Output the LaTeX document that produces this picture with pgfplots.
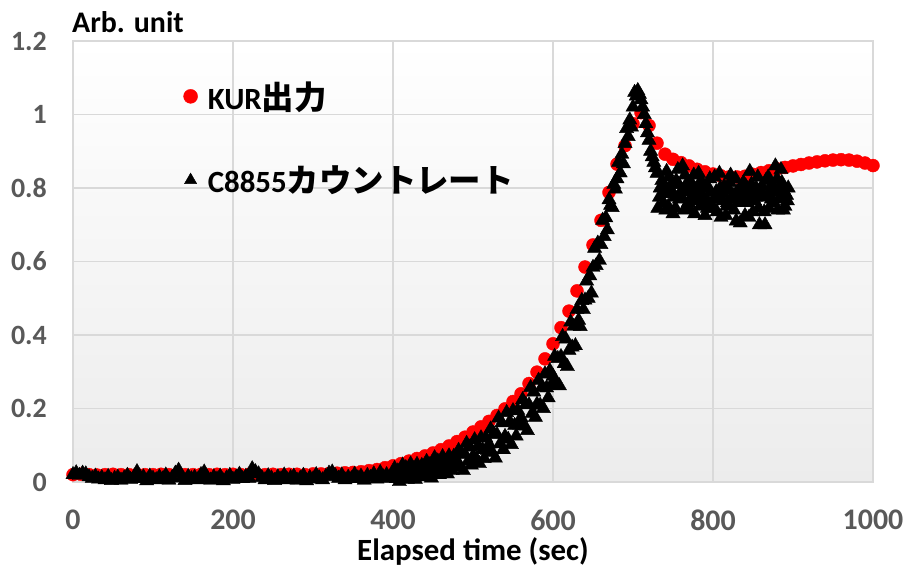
\documentclass[border=0pt]{standalone}
\usepackage{pgfplots}
\pgfplotsset{compat=1.18}
\usepackage{fontspec}
\setmainfont{Carlito}
\newfontfamily\cjk{Noto Sans CJK JP}[Scale=1.05]
\definecolor{gridc}{HTML}{D9D9D9}
\definecolor{tickc}{HTML}{595959}
\definecolor{bgbot}{HTML}{ECECEC}
\definecolor{kur}{HTML}{FF0000}
\pgfplotsset{bigleg/.style={legend image code/.code={\draw[#1, mark size=7bp] plot coordinates {(0bp,0bp)}; \path (-7bp,0bp) (15bp,0bp);}}}

\pgfplotstableread{
t v
0 0.020
10 0.021
20 0.020
30 0.019
40 0.020
50 0.021
60 0.020
70 0.020
80 0.021
90 0.020
100 0.020
110 0.021
120 0.020
130 0.021
140 0.020
150 0.020
160 0.021
170 0.020
180 0.021
190 0.020
200 0.021
210 0.020
220 0.021
230 0.021
240 0.020
250 0.021
260 0.020
270 0.021
280 0.021
290 0.020
300 0.022
310 0.022
320 0.023
330 0.024
340 0.025
350 0.026
360 0.028
370 0.031
380 0.034
390 0.039
400 0.044
410 0.050
420 0.057
430 0.064
440 0.071
450 0.079
460 0.088
470 0.098
480 0.110
490 0.122
500 0.136
510 0.150
520 0.165
530 0.181
540 0.199
550 0.219
560 0.240
570 0.268
580 0.299
590 0.335
600 0.376
610 0.420
620 0.465
630 0.520
640 0.585
650 0.645
660 0.712
670 0.788
680 0.865
690 0.915
700 0.975
710 1.005
720 0.970
730 0.922
740 0.892
750 0.878
760 0.869
770 0.860
780 0.851
790 0.844
800 0.838
810 0.833
820 0.830
830 0.830
840 0.832
850 0.837
860 0.842
870 0.847
880 0.852
890 0.856
900 0.860
910 0.864
920 0.868
930 0.871
940 0.874
950 0.876
960 0.877
970 0.876
980 0.873
990 0.868
1000 0.861
}\kurdata

\pgfplotstableread{
t v
0 0.020
4 0.025
8 0.018
12 0.024
16 0.022
20 0.014
24 0.010
28 0.016
32 0.008
36 0.012
40 0.006
44 0.015
48 0.004
52 0.010
56 0.013
60 0.005
64 0.011
68 0.018
72 0.007
76 0.012
80 0.028
84 0.009
88 0.014
92 0.003
96 0.016
100 0.010
104 0.006
108 0.014
112 0.008
116 0.019
120 0.005
124 0.012
128 0.024
132 0.032
136 0.011
140 0.004
144 0.015
148 0.009
152 0.013
156 0.006
160 0.020
164 0.027
168 0.010
172 0.005
176 0.014
180 0.008
184 0.016
188 0.003
192 0.011
196 0.018
200 0.007
204 0.013
208 0.021
212 0.009
216 0.015
220 0.010
224 0.036
228 0.028
232 0.022
236 0.012
240 0.006
244 0.017
248 0.011
252 0.004
256 0.014
260 0.008
264 0.019
268 0.006
272 0.012
276 0.016
280 0.005
284 0.010
288 0.018
292 0.003
296 0.012
300 0.008
304 0.020
308 0.011
312 0.006
316 0.015
320 0.024
324 0.027
328 0.017
332 0.010
336 0.019
340 0.006
344 0.013
348 0.009
352 0.021
356 0.011
360 0.016
364 0.005
368 0.018
372 0.012
376 0.022
380 0.008
384 0.026
388 0.014
392 0.020
396 0.010
400 0.020
402 0.037
404 0.009
406 0.030
408 0.001
410 0.028
412 0.046
414 0.016
416 0.039
418 0.007
420 0.022
422 0.049
424 0.016
426 0.036
428 0.007
430 0.048
432 0.029
434 0.014
436 0.045
438 0.026
440 0.034
442 0.056
444 0.020
446 0.047
448 0.011
450 0.044
452 0.066
454 0.029
456 0.057
458 0.020
460 0.037
462 0.069
464 0.031
466 0.056
468 0.022
470 0.071
472 0.048
474 0.031
476 0.070
478 0.046
480 0.058
482 0.086
484 0.041
486 0.077
488 0.031
490 0.075
492 0.105
494 0.057
496 0.095
498 0.046
500 0.070
502 0.115
504 0.063
506 0.097
508 0.050
510 0.120
512 0.088
514 0.064
516 0.120
518 0.086
520 0.103
522 0.144
524 0.080
526 0.132
528 0.065
530 0.129
532 0.174
534 0.104
536 0.161
538 0.088
540 0.124
542 0.189
544 0.116
546 0.164
548 0.102
550 0.194
552 0.154
554 0.125
556 0.195
558 0.155
560 0.175
562 0.224
564 0.152
566 0.211
568 0.140
570 0.210
572 0.257
574 0.187
576 0.245
578 0.176
580 0.212
582 0.277
584 0.209
586 0.258
588 0.200
590 0.294
592 0.256
594 0.229
596 0.303
598 0.264
600 0.288
602 0.342
604 0.269
606 0.336
608 0.262
610 0.341
612 0.396
614 0.322
616 0.389
618 0.314
620 0.358
622 0.435
624 0.367
626 0.424
628 0.371
630 0.469
632 0.440
634 0.423
636 0.494
638 0.469
640 0.495
642 0.547
644 0.500
646 0.561
648 0.514
650 0.584
652 0.636
654 0.589
656 0.650
658 0.603
660 0.646
662 0.712
664 0.668
666 0.719
668 0.686
670 0.768
672 0.753
674 0.747
676 0.810
678 0.797
680 0.825
682 0.870
684 0.841
686 0.892
688 0.866
690 0.921
692 0.962
694 0.940
696 0.985
698 0.966
700 1.020
702 1.060
704 1.050
706 1.065
708 1.055
710 1.040
712 1.020
714 1.000
716 0.975
718 0.950
720 0.930
722 0.900
724 0.885
726 0.870
728 0.855
730 0.840
731 0.745
733 0.775
734 0.800
736 0.820
737 0.805
738 0.760
740 0.785
741 0.740
742 0.845
744 0.750
745 0.830
746 0.785
748 0.810
749 0.790
750 0.730
752 0.775
753 0.745
754 0.820
756 0.850
757 0.810
758 0.770
760 0.790
761 0.775
762 0.860
764 0.740
765 0.835
766 0.795
768 0.815
769 0.760
770 0.745
772 0.770
773 0.790
774 0.810
776 0.835
777 0.730
778 0.765
780 0.790
781 0.800
782 0.840
784 0.750
785 0.820
786 0.780
788 0.805
789 0.765
790 0.725
792 0.770
793 0.745
794 0.800
796 0.825
797 0.790
798 0.755
800 0.745
801 0.770
802 0.830
804 0.790
805 0.735
806 0.775
808 0.840
809 0.800
810 0.720
812 0.765
813 0.785
814 0.805
816 0.725
817 0.750
818 0.760
820 0.795
821 0.815
822 0.835
824 0.770
825 0.780
826 0.740
828 0.825
829 0.710
830 0.790
832 0.760
833 0.795
834 0.705
836 0.795
837 0.770
838 0.815
840 0.725
841 0.805
842 0.760
844 0.780
845 0.720
846 0.845
848 0.810
849 0.790
850 0.735
852 0.765
853 0.775
854 0.800
856 0.830
857 0.745
858 0.700
860 0.790
861 0.805
862 0.775
864 0.735
865 0.700
866 0.820
868 0.780
869 0.830
870 0.745
872 0.805
873 0.770
874 0.790
876 0.760
877 0.800
878 0.860
880 0.825
881 0.740
882 0.770
884 0.790
885 0.850
886 0.815
888 0.740
889 0.790
890 0.750
892 0.780
893 0.765
894 0.800
}\cdata

\begin{document}
\begin{tikzpicture}
\begin{axis}[
  scale only axis, width=800bp, height=441bp,
  at={(0,0)}, anchor=south west,
  clip=false,
  xmin=0, xmax=1000, ymin=0, ymax=1.2,
  xtick={0,200,400,600,800,1000},
  ytick={0,0.2,0.4,0.6,0.8,1,1.2},
  grid=major,
  major grid style={draw=gridc, line width=1.2bp},
  axis line style={draw=gridc, line width=1.2bp},
  tick style={draw=none},
  major tick length=0pt,
  axis background/.style={top color=white, bottom color=bgbot},
  /pgf/number format/assume math mode=true,
  /pgf/number format/1000 sep={},
  yticklabel style={font=\fontsize{28}{33}\selectfont\bfseries, text=tickc, anchor=east, inner sep=0pt, xshift=-26bp},
  xticklabel style={font=\fontsize{30}{35}\selectfont\bfseries, text=tickc, anchor=north, inner sep=0pt, yshift=-28bp},
  xlabel={Elapsed time (sec)},
  xlabel style={font=\fontsize{31}{36}\selectfont\bfseries, at={(rel axis cs:0.5,0)}, anchor=base, inner sep=0pt, yshift=-78bp},
  legend cell align=left,
  legend style={at={(rel axis cs:0.134,0.917)}, anchor=north west, draw=none, fill=none,
    row sep=51bp, font=\fontsize{31}{36}\selectfont\bfseries},
]
\addplot[only marks, mark=*, mark size=6.5bp, color=kur, mark options={draw=kur, fill=kur}, bigleg]
  table[x=t, y=v] {\kurdata};
\addlegendentry{KUR{\cjk\bfseries 出力}}
\addplot[only marks, mark=triangle*, mark size=8.2bp, color=black, mark options={draw=black, fill=black}, bigleg]
  table[x=t, y=v] {\cdata};
\addlegendentry{C8855{\cjk\bfseries カウントレート}}
\node[anchor=base west, font=\fontsize{30}{35}\selectfont\bfseries, inner sep=0pt, xshift=-1bp, yshift=8bp]
  at (rel axis cs:0,1) {Arb. unit};
\end{axis}
\path (-73bp,-88bp) rectangle (839bp,482bp);
\end{tikzpicture}
\end{document}
